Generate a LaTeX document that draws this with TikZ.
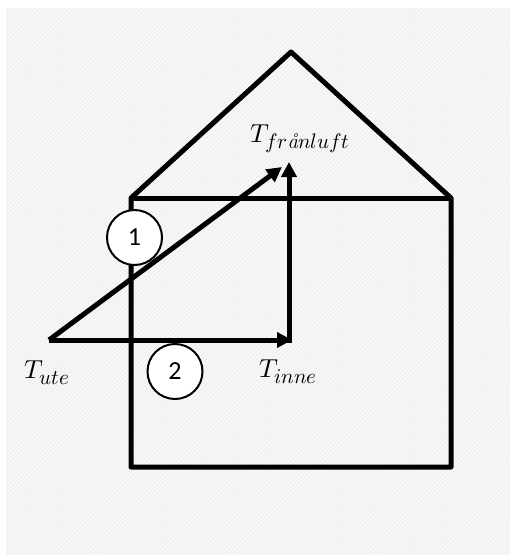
\documentclass[tikz,border=0pt]{standalone}
\usepackage{fontspec}
\usepackage{unicode-math}
\setmathfont{Latin Modern Math}
\DeclareMathSizes{26}{26}{21}{15}
\newfontfamily\digitfont{Carlito}
\usetikzlibrary{arrows.meta,patterns.meta}
\definecolor{bggray}{HTML}{F1F1F1}
\tikzset{
  wall/.style={line width=5pt, line join=round},
  flow/.style={line width=5pt, -{Triangle[length=15pt,width=15pt]}},
  tlabel/.style={font=\fontsize{26}{28}\selectfont, inner sep=0pt},
  numcircle/.style={circle, draw, fill=white, line width=2pt, minimum size=55pt, inner sep=0pt, font=\digitfont\fontsize{26}{28}\selectfont}
}
\begin{document}
\begin{tikzpicture}[x=1pt,y=-1pt]
\useasboundingbox (0,0) rectangle (510,555);
\fill[bggray] (6,8) rectangle (510,555);
\fill[pattern={Lines[angle=45,distance=3pt,line width=0.6pt]}, pattern color=white] (6,8) rectangle (510,555);
% house
\coordinate (bl) at (131,467);
\coordinate (br) at (451,467);
\coordinate (tl) at (131,198);
\coordinate (tr) at (451,198);
\coordinate (apex) at (291,52);
\draw[wall] (tl) -- (apex) -- (tr) -- (br) -- (bl) -- cycle;
\draw[wall] (tl) -- (tr);
% flow points
\coordinate (ute) at (49,340);
\coordinate (inneend) at (292,340);
\coordinate (innecorner) at (289,342.5);
\coordinate (fran) at (289,162);
\coordinate (diagend) at (282,167);
\draw[flow] (ute) -- (diagend);
\draw[flow] (ute) -- (inneend);
\draw[flow] (innecorner) -- (fran);
% labels
\node[tlabel] (Tute) at (47,373) {$T_{ute}$};
\node[tlabel] (Tinne) at (288,372) {$T_{inne}$};
\node[tlabel] (Tfran) at (300,139) {$T_{fr\mathit{å}nluft}$};
% circles
\node[numcircle] (c1) at (134.5,237.5) {1};
\node[numcircle] (c2) at (175,371.5) {2};
\end{tikzpicture}
\end{document}
